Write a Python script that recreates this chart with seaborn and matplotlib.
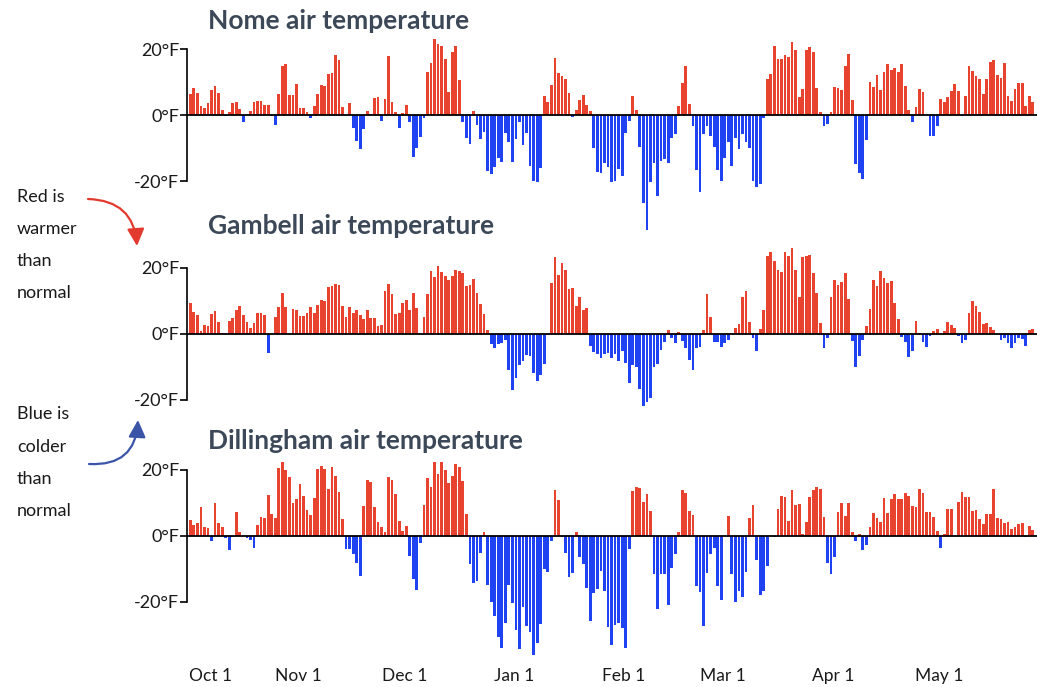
import numpy as np
import pandas as pd
import matplotlib
matplotlib.use("Agg")
import matplotlib.pyplot as plt
import seaborn as sns

# ---------------- data (daily temperature anomaly, °F; Oct 1 .. May 27) ----------------
stations = ["Nome", "Gambell", "Dillingham"]

nome = [6.3, 8.3, 6.7, 2.7, 2.2, 3.6, 7.7, 8.8, 6.7, 1.5,
        -0.2, 1.0, 3.5, 4.0, 1.8, -2.0, 0, 1.2, 3.8, 4.2,
        4.2, 3.0, 3.0, -0.4, -3.0, 6.4, 15.0, 15.4, 6.0, 6.0,
        9.4, 2.2, 2.2, 1.0, -1.0, 2.7, 6.3, 9.1, 8.9, 12.4,
        12.7, 18.2, 16.6, 2.5, 0, 3.7, -4.0, -7.8, -10.4, -4.2,
        1.2, 0.2, 5.3, 5.6, -1.8, 5.0, 18.0, 4.0, 0.8, -4.0,
        0.5, 3.0, -2.2, -12.7, -10.0, -6.7, -0.8, 12.9, 15.7, 23.0,
        21.5, 20.9, 17.0, 7.1, 19.0, 21.0, 10.6, -2.2, -7.0, -8.9,
        1.2, -3.0, -7.3, -5.0, -17.0, -18.0, -15.8, -13.1, -14.3, -5.4,
        -8.3, -14.3, -7.4, -2.2, -9.1, -5.6, -15.5, -19.9, -20.3, -16.2,
        5.8, 3.8, 9.1, 17.4, 12.8, 11.9, 10.9, 6.6, -0.6, 1.4,
        4.4, 6.0, 3.0, 1.3, -9.9, -17.4, -17.5, -14.4, -15.7, -20.2,
        -19.9, -16.4, -18.5, -5.4, -1.8, 5.9, 1.5, -9.6, -26.6, -34.8,
        -20.2, -14.4, -24.6, -13.9, -13.3, -14.4, -7.1, -5.7, 2.7, 9.8,
        15.0, 3.3, -3.3, -16.7, -23.4, -5.7, -3.2, -6.3, -9.6, -16.7,
        -19.9, -13.1, -8.3, -15.4, -7.1, -10.3, -5.7, -8.1, -10.1, -19.9,
        -21.7, -20.8, -0.8, 11.0, 12.4, 21.0, 17.0, 17.0, 18.2, 17.6,
        22.1, 19.7, 5.5, 8.0, 19.6, 20.7, 19.1, 8.1, 0.8, -3.2,
        -2.6, 1.0, 8.4, 8.1, 7.7, 15.0, 18.5, 4.4, -14.7, -17.7,
        -19.4, -7.7, 10.1, 8.6, 12.0, 7.5, 12.9, 15.4, 13.7, 14.1,
        12.9, 15.5, 8.8, 1.4, -2.0, 2.3, 7.8, 7.1, 0, -6.3,
        -6.3, -3.4, 5.0, 3.9, 5.4, 7.4, 9.4, 7.4, -0.3, 5.8,
        14.8, 13.3, 11.8, 10.8, 6.3, 11.0, 16.0, 16.6, 12.1, 11.1,
        15.8, 5.8, 4.3, 8.0, 9.7, 9.7, 2.8, 5.7, 4.0]

gambell = [9.5, 6.7, 5.9, 0.8, 2.7, 2.5, 6.1, 7.0, 3.7, 0.4,
           0.4, 3.9, 4.8, 7.2, 8.5, 5.9, 3.7, 1.9, 3.4, 6.3,
           6.5, 5.9, -5.9, 0, 5.2, 8.2, 12.3, 8.2, 0, 7.5,
           7.4, 5.6, 5.5, 6.3, 8.2, 6.4, 8.8, 10.2, 10.0, 14.3,
           14.6, 15.1, 14.8, 8.5, 5.2, 8.1, 6.3, 7.2, 5.8, 4.4,
           7.2, 4.9, 4.8, 2.5, 2.8, 12.9, 15.2, 12.0, 6.1, 6.3,
           9.4, 10.2, 7.4, 12.4, 8.0, 0, 5.1, 12.1, 19.0, 17.2,
           20.7, 18.8, 17.6, 16.4, 17.7, 19.4, 19.2, 18.4, 14.6, 14.9,
           16.6, 12.4, 9.0, 6.2, 1.2, -3.0, -4.3, -3.0, -2.8, -1.8,
           -11.0, -16.9, -13.2, -9.4, -8.1, -6.4, -6.7, -11.7, -14.1, -12.4,
           -9.2, -0.4, 15.5, 23.2, 17.9, 21.4, 19.5, 13.5, 13.9, 8.6,
           11.2, 7.3, 7.8, -3.6, -5.4, -6.0, -7.4, -6.2, -5.9, -7.2,
           -6.2, -8.3, -5.0, -8.7, -14.9, -9.3, -10.1, -16.8, -21.8, -20.7,
           -19.3, -10.0, -9.0, -4.9, -2.3, 1.2, -1.2, -2.8, 0.7, -2.1,
           -4.3, -7.9, -10.9, -4.3, -3.9, 1.2, 12.0, 5.3, -2.3, -2.3,
           -4.0, -2.8, -1.8, 0.4, 1.9, 3.0, 11.1, 13.0, 3.7, -1.3,
           -5.1, 1.4, 7.3, 23.5, 24.9, 22.2, 19.4, 18.7, 24.7, 23.5,
           26.2, 19.3, 11.3, 23.4, 23.5, 23.9, 18.5, 12.5, 3.4, -4.3,
           -1.2, 11.2, 16.3, 15.0, 15.7, 18.4, 10.7, -2.2, -9.9, -6.7,
           -1.9, 2.4, 7.7, 16.5, 14.4, 19.1, 17.0, 15.6, 16.1, 9.5,
           4.4, -1.0, -2.5, -7.1, -5.1, 4.0, 0.4, -2.5, -3.9, -0.5,
           1.0, 1.6, 0, 1.0, 3.7, 2.7, 1.7, -0.5, -2.7, -1.7,
           6.5, 10.1, 8.6, 6.7, 3.1, 3.2, 2.2, 1.3, 0, -1.9,
           -1.1, -2.6, -4.1, -2.8, -1.2, -1.6, -3.5, 1.3, 1.5]

dillingham = [4.7, 3.4, 3.9, 8.7, 2.7, 2.5, -1.5, 10.1, 4.0, 2.8,
              -0.7, -4.3, -0.2, 7.3, 1.3, 0, -0.5, -1.1, -3.7, 3.2,
              5.7, 5.6, 12.5, 6.6, 5.4, 20.7, 22.3, 19.9, 17.8, 10.0,
              11.1, 15.7, 12.0, 7.8, 6.4, 11.5, 20.3, 21.3, 20.2, 14.3,
              20.8, 18.1, 13.2, 5.3, -3.8, -4.0, -5.5, -8.1, -12.0, 9.1,
              17.1, 16.5, 8.8, 4.2, 2.7, 1.1, 18.0, 16.9, 12.6, 4.5,
              1.6, 3.0, -6.1, -13.1, -16.5, -2.0, 9.3, 17.7, 15.0, 22.3,
              18.8, 22.5, 20.1, 16.0, 18.3, 21.9, 20.8, 16.8, 6.8, -8.4,
              -14.1, -13.5, -5.0, 1.3, -14.9, -20.0, -24.3, -30.7, -34.0, -26.3,
              -14.9, -20.2, -28.6, -34.3, -21.5, -27.2, -29.0, -36.0, -32.4, -26.6,
              -9.9, -11.0, -1.4, 13.8, 10.9, -0.3, -5.3, -12.4, -11.1, 1.1,
              -6.5, -8.4, -15.9, -25.8, -17.4, -16.2, -10.6, -16.7, -27.6, -33.0,
              -26.9, -26.3, -28.0, -34.0, -3.9, 13.7, 14.8, 14.6, 10.4, 12.6,
              7.7, -11.4, -22.2, -11.6, -11.6, -20.8, -9.6, -5.6, 1.3, 13.8,
              13.0, 7.7, 6.3, -15.0, -17.0, -27.2, -11.1, -5.4, -3.5, -15.2,
              -19.4, 0, 6.1, -11.6, -20.1, -16.7, -18.6, -11.0, 5.4, 9.4,
              -7.4, -18.0, -16.6, -9.0, 0, -0.3, 8.2, 12.1, 11.8, 4.5,
              13.8, 9.4, 9.7, 0.6, 4.3, 11.9, 13.8, 14.8, 14.3, 5.9,
              -8.1, -11.4, -6.5, 7.4, 10.0, 6.1, 9.9, 1.1, -1.5, 0.5,
              -4.1, -2.7, 2.6, 7.1, 5.5, 4.3, 11.6, 7.1, 11.3, 12.6,
              11.1, 11.1, 13.1, 12.0, 9.2, 8.7, 14.2, 13.1, 7.3, 7.3,
              5.8, 1.6, -3.5, 0.7, 8.1, 8.2, 0, 10.3, 13.4, 11.7,
              11.8, 7.7, 8.0, 5.3, 3.5, 6.8, 6.8, 14.2, 5.5, 5.1,
              4.0, 4.2, 2.1, 2.8, 3.5, 3.8, -0.4, 3.1, 1.7]

month_labels = ["Oct 1", "Nov 1", "Dec 1", "Jan 1", "Feb 1", "Mar 1", "Apr 1", "May 1"]
month_days = [0, 31, 61, 92, 123, 151, 182, 212]
y_ticks = [-20, 0, 20]
y_tick_labels = ["-20°F", "0°F", "20°F"]

# ---------------- style ----------------
sns.set_theme(style="white")
plt.rcParams["font.family"] = ["Lato", "DejaVu Sans"]

W, H = 1037, 687
fig = plt.figure(figsize=(W / 100, H / 100), dpi=100)

RED = "#E8432E"
BLUE = "#1F43F2"
TITLE_C = "#3C4858"
TXT_C = "#1a1a1a"

px_per_deg = 3.3
left_px, right_px = 187, 1037
x_lo, x_hi = -0.93, 239.2

# (values, zero-line pixel row, ylim, title centre row)
panels = [
    (nome, 115, (-37, 25), 21),
    (gambell, 334, (-22, 27), 226),
    (dillingham, 536, (-37, 24), 441),
]

axes = []
for i, (vals, zero_px, (ylo, yhi), title_px) in enumerate(panels):
    top_px = zero_px - yhi * px_per_deg
    bot_px = zero_px - ylo * px_per_deg
    ax = fig.add_axes([left_px / W, 1 - bot_px / H,
                       (right_px - left_px) / W, (bot_px - top_px) / H])
    ax.patch.set_alpha(0)
    vals = np.asarray(vals, dtype=float)
    df = pd.DataFrame({"day": np.arange(len(vals)), "anomaly": vals,
                       "sign": np.where(vals >= 0, "warm", "cold")})
    sns.barplot(data=df, x="day", y="anomaly", hue="sign",
                palette={"warm": RED, "cold": BLUE}, dodge=False,
                width=0.78, errorbar=None, legend=False, saturation=1,
                linewidth=0, ax=ax)
    ax.set_xlim(x_lo, x_hi)
    ax.set_ylim(ylo, yhi)
    ax.axhline(0, color="black", lw=1.3, zorder=5)
    for s in ["top", "right", "bottom"]:
        ax.spines[s].set_visible(False)
    ax.spines["left"].set_bounds(-20, 20)
    ax.spines["left"].set_color("black")
    ax.spines["left"].set_linewidth(1.2)
    ax.set_yticks(y_ticks)
    ax.set_yticklabels(y_tick_labels, fontsize=13, color=TXT_C)
    ax.tick_params(axis="y", left=True, length=5, width=1.2, direction="out",
                   pad=0.5, color="black")
    ax.set_xlabel("")
    ax.set_ylabel("")
    if i < 2:
        ax.set_xticks([])
    else:
        ax.set_xticks([d - 0.5 for d in month_days])
        ax.set_xticklabels(month_labels, fontsize=12.5, color=TXT_C)
        ax.tick_params(axis="x", bottom=False, length=0, pad=7)
        ax.get_xticklabels()[0].set_horizontalalignment("left")
    fig.text(208 / W, 1 - title_px / H, f"{stations[i]} air temperature",
             fontsize=19, fontweight="bold", color=TITLE_C, va="center", ha="left")
    axes.append(ax)

# ---------------- side legend text & arrows ----------------
for txt, row in zip(["Red is", "warmer", "than", "normal"], [197, 229, 261, 293]):
    fig.text(17 / W, 1 - row / H, txt, fontsize=13, color=TXT_C, va="center", ha="left")
for txt, row in zip(["Blue is", "colder", "than", "normal"], [414, 447, 479, 511]):
    fig.text(17 / W, 1 - row / H, txt, fontsize=13, color=TXT_C, va="center", ha="left")

ax0 = axes[0]
ax0.annotate("", xy=(137, H - 246), xytext=(88, H - 199),
             xycoords="figure pixels", textcoords="figure pixels",
             annotation_clip=False,
             arrowprops=dict(arrowstyle="-|>,head_length=0.8,head_width=0.4",
                             connectionstyle="arc3,rad=-0.45",
                             color="#E23A2E", lw=1.6, mutation_scale=13,
                             shrinkA=0, shrinkB=0))
ax0.annotate("", xy=(138, H - 420), xytext=(89, H - 464),
             xycoords="figure pixels", textcoords="figure pixels",
             annotation_clip=False,
             arrowprops=dict(arrowstyle="-|>,head_length=0.8,head_width=0.4",
                             connectionstyle="arc3,rad=0.5",
                             color="#3A55A8", lw=1.6, mutation_scale=13,
                             shrinkA=0, shrinkB=0))

fig.savefig("out.png", dpi=100, facecolor="white")
